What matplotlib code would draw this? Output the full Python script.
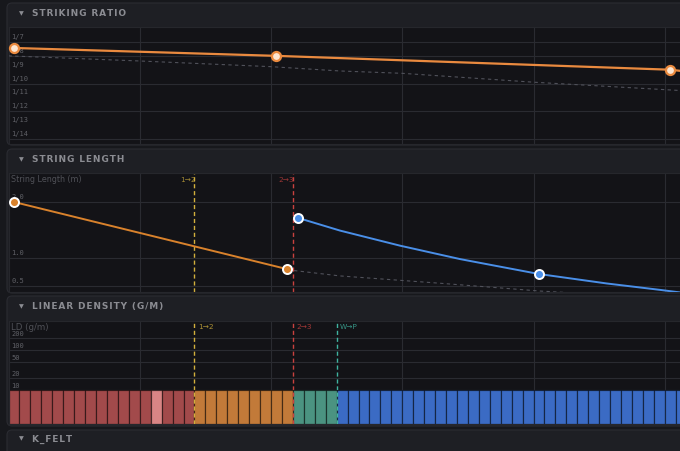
import matplotlib
matplotlib.use("Agg")
import matplotlib.pyplot as plt
from matplotlib.patches import FancyBboxPatch

W, H = 680, 451

# ---- data (x is key index, 0 = lowest key) ----
sr_keys = [0.5, 24.5, 60.5, 61.4]
sr_denom = [7.43, 8.0, 9.0, 9.08]
sr_marker_keys = [0.5, 24.5, 60.5]
sr_marker_denom = [7.43, 8.0, 9.0]
sr_ref_keys = [0, 12, 24, 30.3, 36, 48, 61.4]
sr_ref_denom = [8.0, 8.37, 8.78, 9.09, 9.26, 9.9, 10.5]
sr_ticks = [7, 8, 9, 10, 11, 12, 13, 14]
sr_grid = [7, 8, 10, 12, 14]

sl_bass_keys = [0.5, 25.5]
sl_bass_len = [2.0, 0.80]
sl_treble_keys = [26.5, 30.3, 35.8, 41.3, 48.5, 54.7, 59.6, 61.4]
sl_treble_len = [1.714, 1.49, 1.22, 0.98, 0.714, 0.545, 0.43, 0.385]
sl_treble_marker_keys = [26.5, 48.5]
sl_treble_marker_len = [1.714, 0.714]
sl_ref_keys = [25.5, 30.3, 39.4, 48.6, 54.1]
sl_ref_len = [0.79, 0.68, 0.55, 0.41, 0.35]
sl_ticks = [2.0, 1.0, 0.5]

ld_ticks = [200, 100, 50, 20, 10]

n_keys = 62
section_of_key = ["red"] * 17 + ["orange"] * 9 + ["green"] * 4 + ["blue"] * 32
highlight_key = 13

breaks = [17, 26, 30]
break_labels = ["1\u21922", "2\u21923", "W\u2192P"]
break_colors = ["#d2b03c", "#c9413f", "#3fb3a0"]

section_colors = {"red": "#a24a4b", "orange": "#c27a39", "green": "#4b9381", "blue": "#3b6bc4"}
highlight_color = "#d98585"

BG = "#17181c"
PANEL = "#1e1f24"
PLOT = "#131317"
GRID = "#2a2b31"
TICK = "#5f6066"
HEAD = "#8b8c92"
ORANGE = "#ea8a3f"
ORANGE2 = "#d9822c"
BLUE = "#4a8fe8"

XMAX = (680 - 9) / 10.93


def rect(x0, y0, x1, y1):
    return [x0 / W, 1 - y1 / H, (x1 - x0) / W, (y1 - y0) / H]


def spaced(s):
    # header letters are tracked out a little
    return "\u200a".join(s)


fig = plt.figure(figsize=(W / 100, H / 100), dpi=100, facecolor=BG)

bg = fig.add_axes([0, 0, 1, 1])
bg.set_xlim(0, W)
bg.set_ylim(H, 0)
bg.axis("off")

panels = [(3, 145, 14, "STRIKING RATIO"),
          (149, 293, 160, "STRING LENGTH"),
          (296, 426, 307, "LINEAR DENSITY (G/M)"),
          (430, 470, 439, "K_FELT")]
for top, bottom, ty, title in panels:
    bg.add_patch(FancyBboxPatch((7, top), 720, bottom - top,
                                boxstyle="round,pad=0,rounding_size=5",
                                facecolor=PANEL, edgecolor="#2b2c32", lw=0.8))
    bg.text(21, ty, "\u25bc", color=HEAD, fontsize=4.5, ha="center", va="center")
    bg.text(32, ty, spaced(title), color=HEAD, fontsize=6.5, fontweight="bold",
            ha="left", va="center")


def style(ax):
    ax.set_facecolor(PLOT)
    ax.set_xlim(0, XMAX)
    ax.set_xticks([])
    ax.set_yticks([])
    for s in ax.spines.values():
        s.set_color("#26272c")
        s.set_linewidth(0.8)
    ax.spines["right"].set_visible(False)
    for k in [12, 24, 36, 48, 60]:
        ax.axvline(k, color=GRID, lw=0.8, zorder=0)


def tick_label(ax, y, txt, dy=2):
    ax.annotate(txt, (0.27, y), xytext=(0, dy), textcoords="offset pixels",
                color=TICK, fontsize=5, family="DejaVu Sans Mono",
                ha="left", va="bottom", zorder=2)


# ---- striking ratio ----
ax1 = fig.add_axes(rect(8.5, 27, 680, 144))
style(ax1)
ax1.set_ylim(7 + 102 / 13.86, 7 - 15 / 13.86)
for d in sr_grid:
    ax1.axhline(d, color=GRID, lw=0.8, zorder=0)
for d in sr_ticks:
    tick_label(ax1, d, "1/%d" % d)
ax1.plot(sr_ref_keys, sr_ref_denom, color="#50515a", lw=0.8, ls=(0, (3, 3)), zorder=3)
ax1.plot(sr_keys, sr_denom, color=ORANGE, lw=1.6, zorder=4, solid_capstyle="round")
ax1.plot(sr_marker_keys, sr_marker_denom, "o", ms=6.5, mfc="#fde6d2", mec=ORANGE,
         mew=1.6, zorder=5, clip_on=False)

# ---- string length ----
ax2 = fig.add_axes(rect(8.5, 173, 680, 292))
style(ax2)
ax2.set_ylim(1 - 34 / 56, 1 + 85 / 56)
for v in sl_ticks:
    ax2.axhline(v, color=GRID, lw=0.8, zorder=0)
    tick_label(ax2, v, "%.1f" % v)
ax2.text(0.27, 1 + 78 / 56, "String Length (m)", color="#505157", fontsize=5.8,
         ha="left", va="center")
for k, lab, c in zip(breaks[:2], break_labels[:2], break_colors[:2]):
    ax2.axvline(k, color=c, lw=1.0, ls=(0, (3, 2)), zorder=2)
    ax2.text(k - 0.6, 1 + 78 / 56, lab, color=c, alpha=0.75, fontsize=5.3,
             ha="center", va="center")
ax2.plot(sl_ref_keys, sl_ref_len, color="#50515a", lw=0.8, ls=(0, (3, 3)), zorder=3)
ax2.plot(sl_bass_keys, sl_bass_len, color=ORANGE2, lw=1.4, zorder=4)
ax2.plot(sl_treble_keys, sl_treble_len, color=BLUE, lw=1.4, zorder=4)
ax2.plot(sl_bass_keys, sl_bass_len, "o", ms=6.5, mfc=ORANGE2, mec="white", mew=1.4,
         zorder=5, clip_on=False)
ax2.plot(sl_treble_marker_keys, sl_treble_marker_len, "o", ms=6.5, mfc=BLUE,
         mec="white", mew=1.4, zorder=5)

# ---- linear density ----
ax3 = fig.add_axes(rect(8.5, 321, 680, 390))
style(ax3)
ax3.set_yscale("log")
ax3.set_ylim(10, 10 ** (1 + 69 / 40))
ax3.minorticks_off()
ax3.set_yticks([])
for v in ld_ticks:
    ax3.axhline(v, color=GRID, lw=0.8, zorder=0)
    tick_label(ax3, v, str(v), dy=1)
ax3.text(0.27, 10 ** (1 + 63 / 40), "LD (g/m)", color="#505157", fontsize=6.2,
         ha="left", va="center")
for k, lab, c in zip(breaks, break_labels, break_colors):
    ax3.axvline(k, color=c, lw=1.0, ls=(0, (3, 2)), zorder=2)
    ax3.text(k + 0.3, 10 ** (1 + 63 / 40), lab, color=c, alpha=0.8, fontsize=5.3,
             ha="left", va="center")

ax4 = fig.add_axes(rect(8.5, 390, 680, 423.5))
style(ax4)
ax4.set_ylim(0, 1)
ax4.spines["top"].set_visible(False)
colors = [highlight_color if i == highlight_key else section_colors[s]
          for i, s in enumerate(section_of_key)]
ax4.bar(range(n_keys), [1] * n_keys, width=1, bottom=0, align="edge",
        color=colors, edgecolor=(0, 0, 0, 0.45), linewidth=0.9, zorder=1)
for k, c in zip(breaks, break_colors):
    ax4.axvline(k, color=c, lw=1.0, ls=(0, (3, 2)), zorder=3)

fig.savefig("out.png", dpi=100, facecolor=BG)
